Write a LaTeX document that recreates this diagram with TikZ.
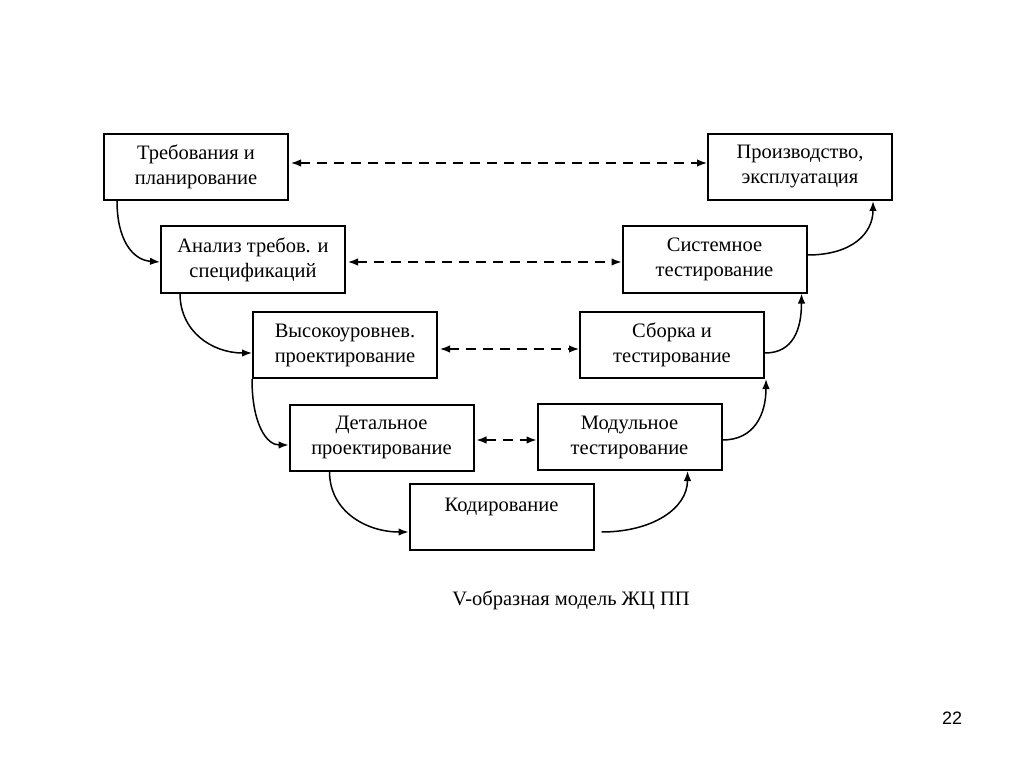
\documentclass[tikz,border=0pt]{standalone}
\usepackage{fontspec}
\setmainfont{Liberation Serif}
\newfontfamily\numfont{Liberation Sans}
\usetikzlibrary{arrows.meta}
\begin{document}
\begin{tikzpicture}[x=1pt,y=-1pt,
  stagebox/.style={draw, line width=2pt, minimum width=184pt, minimum height=66pt,
    inner sep=0pt, align=center, font=\fontsize{20.5}{25}\selectfont},
  flow/.style={line width=1.5pt, -{Latex[length=10pt,width=7.5pt]}},
  link/.style={line width=1.5pt, dash pattern=on 10pt off 7pt, {Latex[length=10pt,width=7.5pt]}-{Latex[length=10pt,width=7.5pt]}}]
\fill[white] (0,0) rectangle (1024,767);
\useasboundingbox (0,0) rectangle (1024,767);
\node[stagebox] (b1) at (196,167) {Требования и\\планирование};
\node[stagebox] (b2) at (253,259.5) {Анализ требов. и\\спецификаций};
\node[stagebox] (b3) at (345,345) {Высокоуровнев.\\проектирование};
\node[stagebox] (b4) at (381.5,437.5) {Детальное\\проектирование};
\node[stagebox] (b5) at (501.5,517) {Кодирование\\\mbox{}};
\node[stagebox] (b6) at (629.5,437) {Модульное\\тестирование};
\node[stagebox] (b7) at (672,345) {Сборка и\\тестирование};
\node[stagebox] (b8) at (714.5,259.5) {Системное\\тестирование};
\node[stagebox] (b9) at (800,167) {Производство,\\эксплуатация};
% dashed links
\draw[link] ([xshift=2pt,yshift=4pt]b1.east) -- ([yshift=4pt]b9.west);
\draw[link] ([xshift=2pt,yshift=-2.5pt]b2.east) -- ([yshift=-2.5pt]b8.west);
\draw[link] ([xshift=2pt,yshift=-4pt]b3.east) -- ([yshift=-4pt]b7.west);
\draw[link] ([xshift=2pt,yshift=-2.5pt]b4.east) -- ([yshift=-3pt]b6.west);
% descending flow
\draw[flow] ([xshift=14pt]b1.south west) .. controls +(0,38) and +(-28,-2) .. ([yshift=-2.5pt]b2.west);
\draw[flow] ([xshift=20pt]b2.south west) .. controls +(0,38) and +(-40,0) .. ([yshift=-8pt]b3.west);
\draw[flow] (b3.south west) .. controls +(0,45) and +(-22,0) .. ([yshift=-7.5pt]b4.west);
\draw[flow] ([xshift=41pt]b4.south west) .. controls +(0,40) and +(-42,0) .. ([yshift=-15pt]b5.west);
% ascending flow
\draw[flow] ([xshift=7pt,yshift=-15pt]b5.east) .. controls +(50,0) and +(0,38) .. ([xshift=-35pt]b6.south east);
\draw[flow] ([yshift=-3pt]b6.east) .. controls +(32,0) and +(0,35) .. ([xshift=1pt]b7.south east);
\draw[flow] ([yshift=-8pt]b7.east) .. controls +(28,0) and +(0,36) .. ([xshift=-6pt]b8.south east);
\draw[flow] ([yshift=4.5pt]b8.east) .. controls +(45,0) and +(0,32) .. ([xshift=-20pt]b9.south east);
\node[font=\fontsize{20.5}{24}\selectfont] (cap) at (571,600) {V-образная модель ЖЦ ПП};
\node[font=\numfont\fontsize{18}{20}\selectfont] (num) at (952,718) {22};
\end{tikzpicture}
\end{document}
